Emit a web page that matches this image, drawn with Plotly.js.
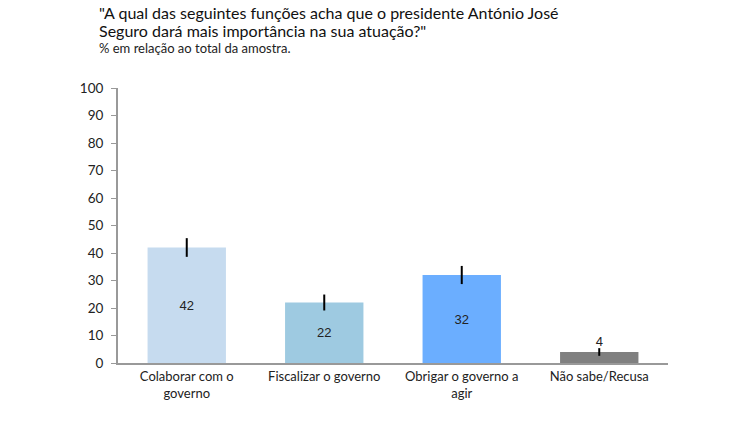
<!DOCTYPE html>
<html>
<head>
<meta charset="utf-8">
<script src="https://cdn.plot.ly/plotly-3.0.1.min.js"></script>
<style>html,body{margin:0;padding:0;background:#fff;}#chart{width:752px;height:440px;}</style>
</head>
<body>
<div id="chart"></div>
<script>
const categories = ["Colaborar com o<br>governo", "Fiscalizar o governo", "Obrigar o governo a<br>agir", "Não sabe/Recusa"];
const values = [42, 22, 32, 4];
const errors = [3.4, 2.9, 3.3, 1.4];
const labels = ["42", "22", "32", "4"];
const colors = ["#c6dbef", "#9ecae1", "#6baeff", "#808080"];
const yTicks = [0, 10, 20, 30, 40, 50, 60, 70, 80, 90, 100];
const titleLines = ["\"A qual das seguintes funções acha que o presidente António José", "Seguro dará mais importância na sua atuação?\""];
const subtitle = "% em relação ao total da amostra.";

const trace = {
  type: "bar",
  x: categories,
  y: values,
  width: 0.57,
  marker: { color: colors, line: { width: 0 } },
  text: labels,
  textposition: ["inside", "inside", "inside", "outside"],
  insidetextanchor: "middle",
  textangle: 0,
  constraintext: "none",
  cliponaxis: false,
  textfont: { family: "Arial, Liberation Sans, sans-serif", size: 13, color: "#222" },
  error_y: { type: "data", array: errors, visible: true, color: "#000", thickness: 2, width: 0 },
  hoverinfo: "none"
};

const PH = 275, PW = 550, T = 88, L = 118;
const layout = {
  width: 752, height: 440,
  margin: { l: L, r: 84, t: T, b: 77 },
  paper_bgcolor: "#fff", plot_bgcolor: "#fff",
  font: { family: "Lato, sans-serif", size: 13, color: "#222" },
  showlegend: false,
  annotations: [
    {
      text: titleLines[0],
      xref: "paper", yref: "paper",
      x: (97 - L) / PW, xanchor: "left",
      y: 1 + (T - 12.5) / PH, yanchor: "middle",
      showarrow: false,
      font: { family: "Lato, sans-serif", size: 16, color: "#111" }
    },
    {
      text: titleLines[1],
      xref: "paper", yref: "paper",
      x: (97 - L) / PW, xanchor: "left",
      y: 1 + (T - 30.5) / PH, yanchor: "middle",
      showarrow: false,
      font: { family: "Lato, sans-serif", size: 16, color: "#111" }
    },
    {
      text: subtitle,
      xref: "paper", yref: "paper",
      x: (97 - L) / PW, xanchor: "left",
      y: 1 + (T - 48) / PH, yanchor: "middle",
      showarrow: false,
      font: { family: "Lato, sans-serif", size: 13, color: "#222" }
    }
  ],
  xaxis: {
    type: "category",
    showgrid: false, zeroline: false,
    showline: true, linecolor: "#999", linewidth: 2,
    ticks: "", tickfont: { family: "Lato, sans-serif", size: 13, color: "#222" },
    fixedrange: true
  },
  yaxis: {
    range: [0, 100],
    tickvals: yTicks,
    ticktext: yTicks.map(String),
    showgrid: false, zeroline: false,
    showline: true, linecolor: "#999", linewidth: 2,
    ticks: "outside", ticklen: 5, tickcolor: "#999", tickwidth: 1,
    ticklabelstandoff: 5,
    tickfont: { family: "Lato, sans-serif", size: 13.5, color: "#222" },
    fixedrange: true
  },
  bargap: 0.43
};

Plotly.newPlot("chart", [trace], layout, { displayModeBar: false, staticPlot: true });
</script>
</body>
</html>
